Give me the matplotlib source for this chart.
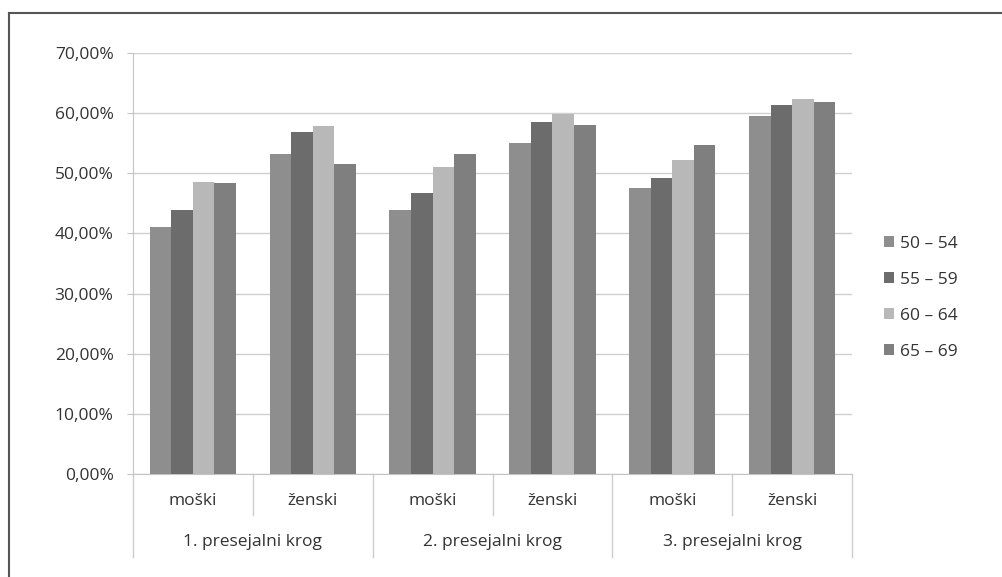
import numpy as np
import matplotlib
matplotlib.use("Agg")
import matplotlib.pyplot as plt
from matplotlib.lines import Line2D
from matplotlib.ticker import FuncFormatter
import matplotlib.transforms as mtransforms

# data
genders = ["moški", "ženski", "moški", "ženski", "moški", "ženski"]
rounds = ["1. presejalni krog", "2. presejalni krog", "3. presejalni krog"]
age_groups = ["50 – 54", "55 – 59", "60 – 64", "65 – 69"]
age_50_54 = [41.0, 53.2, 43.9, 55.0, 47.5, 59.6]
age_55_59 = [43.9, 56.9, 46.8, 58.6, 49.2, 61.4]
age_60_64 = [48.5, 57.8, 51.1, 59.8, 52.2, 62.3]
age_65_69 = [48.4, 51.6, 53.2, 58.0, 54.7, 61.9]

series = [age_50_54, age_55_59, age_60_64, age_65_69]
colors = ["#8e8e8e", "#6c6c6c", "#b8b8b8", "#7f7f7f"]

plt.rcParams["font.family"] = ["Open Sans", "DejaVu Sans"]
fs = 12.5

fig = plt.figure(figsize=(10.02, 5.77), dpi=100)
ax = fig.add_axes([133 / 1002, 1 - 474 / 577, 719 / 1002, 421 / 577])

x = np.arange(len(genders))
width = 0.18
handles = []
for i, vals in enumerate(series):
    b = ax.bar(x + (i - 1.5) * width, np.array(vals) / 100.0, width,
               color=colors[i], label=age_groups[i], zorder=3)
    handles.append(b)

ax.set_xlim(-0.5, len(genders) - 0.5)
ax.set_ylim(0, 0.70)
ax.set_yticks(np.arange(0, 0.71, 0.10))
ax.yaxis.set_major_formatter(FuncFormatter(lambda v, p: ("%.2f%%" % (v * 100)).replace(".", ",")))
ax.grid(axis="y", color="#d0d0d0", linewidth=1, zorder=0)
ax.set_xticks([])
for s in ["top", "right"]:
    ax.spines[s].set_visible(False)
ax.spines["left"].set_color("#c4c4c4")
ax.spines["bottom"].set_color("#c4c4c4")
ax.tick_params(axis="y", length=4, color="#c4c4c4", labelsize=fs, labelcolor="#333333", pad=10)

# multi-level category axis
trans = mtransforms.blended_transform_factory(ax.transData, ax.transAxes)
sep_col = "#cccccc"
for k in range(len(genders) + 1):
    xb = k - 0.5
    y_end = -0.197 if k % 2 == 0 else -0.097
    ax.plot([xb, xb], [0, y_end], color=sep_col, lw=1, transform=trans, clip_on=False)
for k, g in enumerate(genders):
    ax.text(k, -0.064, g, transform=trans, ha="center", va="center",
            fontsize=fs, color="#333333")
for k, r in enumerate(rounds):
    ax.text(2 * k + 0.5, -0.162, r, transform=trans, ha="center", va="center",
            fontsize=fs, color="#333333")

fig.legend(handles, age_groups, loc="center left",
           bbox_to_anchor=(868 / 1002, 1 - 298 / 577), frameon=False,
           fontsize=fs, handlelength=0.6, handleheight=0.6,
           handletextpad=0.35, labelspacing=1.15, labelcolor="#333333")

# outer frame (cut at right and bottom)
fig.add_artist(Line2D([9 / 1002, 1], [1 - 13 / 577, 1 - 13 / 577], color="#555555", lw=1.5))
fig.add_artist(Line2D([9 / 1002, 9 / 1002], [0, 1 - 13 / 577], color="#555555", lw=1.5))

fig.savefig("out.png", dpi=100)
